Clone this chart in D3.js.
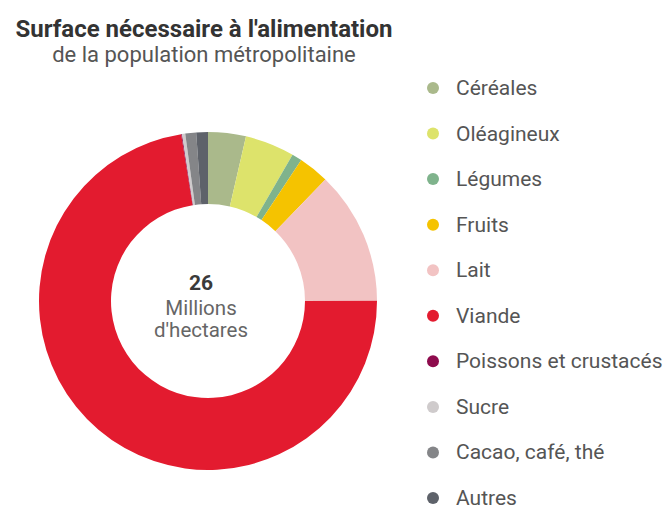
<!DOCTYPE html>
<html>
<head>
<meta charset="utf-8">
<script src="https://cdn.jsdelivr.net/npm/d3@7"></script>
<style>
  html, body { margin: 0; padding: 0; background: #ffffff; }
  svg { display: block; }
  text { font-family: Roboto, "Liberation Sans", sans-serif; }
</style>
</head>
<body>
<svg id="chart" width="667" height="509"></svg>
<script>
// ---- Data (millions d'hectares; total 26) ----
const categories = ["Céréales", "Oléagineux", "Légumes", "Fruits", "Lait", "Viande",
                    "Poissons et crustacés", "Sucre", "Cacao, café, thé", "Autres"];
const values = [0.94, 1.23, 0.25, 0.76, 3.32, 18.86, 0.02, 0.08, 0.27, 0.29];
const colors = ["#aab98b", "#dde36b", "#7fb38c", "#f5c300", "#f2c3c3", "#e31b2f",
                "#8e0b4d", "#cfcbcc", "#848588", "#5e626a"];
const titleText = "Surface nécessaire à l'alimentation";
const subtitleText = "de la population métropolitaine";
const centerLines = ["26", "Millions", "d'hectares"];

const svg = d3.select("#chart");

// Title
svg.append("text")
  .attr("x", 204).attr("y", 37)
  .attr("text-anchor", "middle")
  .attr("font-size", 24).attr("font-weight", "bold")
  .attr("fill", "#333333")
  .text(titleText);
svg.append("text")
  .attr("x", 204).attr("y", 62)
  .attr("text-anchor", "middle")
  .attr("font-size", 22)
  .attr("fill", "#555555")
  .text(subtitleText);

// Donut
const cx = 208, cy = 301, rOuter = 169, rInner = 97;
const color = d3.scaleOrdinal().domain(categories).range(colors);
const pie = d3.pie().sort(null).value(d => d.value);
const arc = d3.arc().innerRadius(rInner).outerRadius(rOuter);
const data = categories.map((c, i) => ({ name: c, value: values[i] }));

const g = svg.append("g").attr("transform", `translate(${cx},${cy})`);
g.selectAll("path")
  .data(pie(data))
  .join("path")
  .attr("d", arc)
  .attr("fill", d => color(d.data.name));

// Center text
const ct = svg.append("g").attr("transform", `translate(${cx - 7},${cy})`);
ct.append("text").attr("y", -11).attr("text-anchor", "middle")
  .attr("font-size", 21).attr("font-weight", "bold").attr("fill", "#3a3a3a")
  .text(centerLines[0]);
ct.append("text").attr("y", 14).attr("text-anchor", "middle")
  .attr("font-size", 20.5).attr("fill", "#666666")
  .text(centerLines[1]);
ct.append("text").attr("y", 36).attr("text-anchor", "middle")
  .attr("font-size", 20.5).attr("fill", "#666666")
  .text(centerLines[2]);

// Legend
const ly = d3.scalePoint().domain(categories).range([88, 498]);
const legend = svg.append("g");
const items = legend.selectAll("g")
  .data(categories)
  .join("g")
  .attr("transform", d => `translate(433,${ly(d)})`);
items.append("circle").attr("r", 6).attr("fill", d => color(d));
items.append("text")
  .attr("x", 23).attr("y", 7)
  .attr("font-size", 21).attr("fill", "#555555")
  .text(d => d);
</script>
</body>
</html>
